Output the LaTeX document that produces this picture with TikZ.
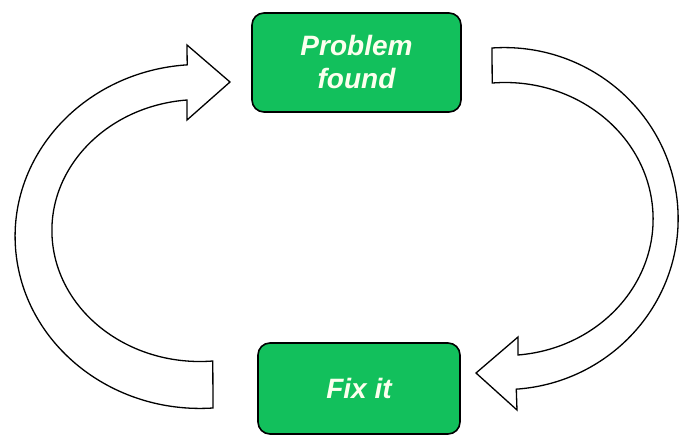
\documentclass[tikz,border=0pt]{standalone}
\usepackage{fontspec}
\setmainfont{Liberation Sans}
\usepackage{tikz}
\definecolor{boxgreen}{RGB}{18,192,92}
\definecolor{textwhite}{RGB}{252,255,238}

\begin{document}
\begin{tikzpicture}[x=1pt,y=1pt,
		box/.style={draw=black,line width=1.6pt,rounded corners=12pt,fill=boxgreen,text=textwhite,
			font=\fontsize{28}{33}\selectfont\bfseries\itshape,align=center,inner sep=0pt},
		bentarrow/.style={draw=black,line width=1.3pt,fill=white,line join=miter}]
			\useasboundingbox (0,0) rectangle (681,437);
			
			\node[box,minimum width=209pt,minimum height=99pt] (problem)at(356.5,374.5) {Problem\\found};
			\node[box,minimum width=202pt,minimum height=91pt] (fix)at(359,48.5) {Fix it};
			
			% left arrow: fix it -> problem found
			\draw[bentarrow] (213,29) arc[start angle=274,end angle=94,x radius=185,y radius=172]
				-- (187,392) -- (230,355) -- (187,317) -- (187,337)
				arc[start angle=95,end angle=275,x radius=148,y radius=131] -- cycle;
			% right arrow: problem found -> fix it
			\draw[bentarrow] (492,389) arc[start angle=94,end angle=-86,x radius=174,y radius=171]
				-- (517,27) -- (476,64) -- (518,100) -- (518,82)
				arc[start angle=-85,end angle=95,x radius=148,y radius=136.5] -- cycle;
		\end{tikzpicture}
\end{document}
